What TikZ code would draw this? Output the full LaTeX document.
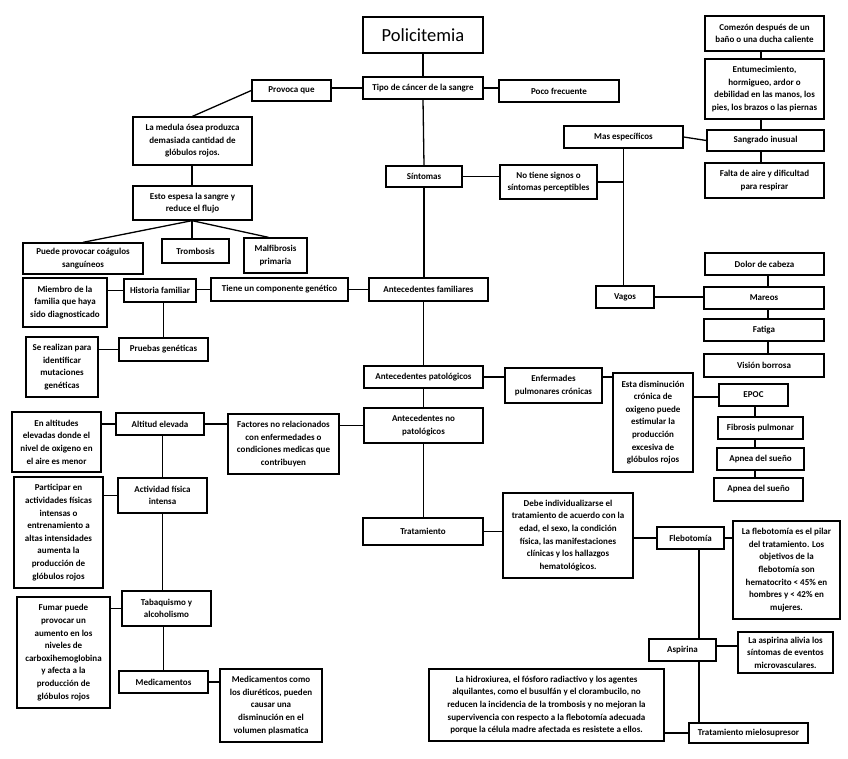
\documentclass[tikz,border=0pt]{standalone}
\usepackage{fontspec}
\setmainfont{Carlito}
\begin{document}
\begin{tikzpicture}[x=1pt,y=-1pt,
  box/.style={draw, line width=1.3pt, inner sep=0pt, align=center,
    font=\fontsize{9}{12.6}\selectfont\bfseries},
  link/.style={line width=1.3pt},
  title/.style={draw, line width=2.6pt, inner sep=0pt, align=center,
    font=\fontsize{18.5}{20}\selectfont}]
\fill[white] (0,0) rectangle (848,759);
\useasboundingbox (0,0) rectangle (848,759);

% --- nodes ---
\node[title, minimum width=120pt, minimum height=36pt] (pol) at (423,35) {Policitemia};
\node[box, minimum width=120pt, minimum height=22pt] (tipo) at (423,88) {Tipo de cáncer de la sangre};
\node[box, minimum width=79pt, minimum height=21pt] (provoca) at (291.5,90.5) {Provoca que};
\node[box, minimum width=120pt, minimum height=22pt] (poco) at (559,91) {Poco frecuente};
\node[box, minimum width=119pt, minimum height=48pt] (medula) at (192.5,141) {La medula ósea produzca\\demasiada cantidad de\\glóbulos rojos.};
\node[box, minimum width=119pt, minimum height=34pt] (espesa) at (192.5,203) {Esto espesa la sangre y\\reduce el flujo};
\node[box, minimum width=120pt, minimum height=31pt] (coag) at (83,258.5) {Puede provocar coágulos\\sanguíneos};
\node[box, minimum width=67pt, minimum height=24pt] (tromb) at (195.5,251) {Trombosis};
\node[box, minimum width=63pt, minimum height=35pt] (malf) at (275.5,255.5) {Malfibrosis\\primaria};

\node[box, minimum width=76pt, minimum height=21pt] (sint) at (424,176.5) {Síntomas};
\node[box, minimum width=97pt, minimum height=34pt] (notiene) at (548.5,182) {No tiene signos o\\síntomas perceptibles};
\node[box, minimum width=119pt, minimum height=22pt] (masesp) at (623.5,137) {Mas específicos};
\node[box, minimum width=119pt, minimum height=35pt] (comezon) at (764.5,33.5) {Comezón después de un\\baño o una ducha caliente};
\node[box, minimum width=119pt, minimum height=60pt] (entum) at (764.5,89) {Entumecimiento,\\hormigueo, ardor o\\debilidad en las manos, los\\pies, los brazos o las piernas};
\node[box, minimum width=117pt, minimum height=21pt] (sangrado) at (765.5,140.5) {Sangrado inusual};
\node[box, minimum width=119pt, minimum height=35pt] (falta) at (764.5,180.5) {Falta de aire y dificultad\\para respirar};
\node[box, minimum width=119pt, minimum height=22pt] (dolor) at (764.5,264) {Dolor de cabeza};
\node[box, minimum width=58pt, minimum height=22pt] (vagos) at (625,297) {Vagos};
\node[box, minimum width=120pt, minimum height=22pt] (mareos) at (764,298) {Mareos};
\node[box, minimum width=120pt, minimum height=22pt] (fatiga) at (764,330) {Fatiga};
\node[box, minimum width=120pt, minimum height=23pt] (vision) at (764,365.5) {Visión borrosa};

\node[box, minimum width=119pt, minimum height=23pt] (antfam) at (428.5,289.5) {Antecedentes familiares};
\node[box, minimum width=84pt, minimum height=49pt] (miembro) at (65,302.5) {Miembro de la\\familia que haya\\sido diagnosticado};
\node[box, minimum width=72pt, minimum height=23pt] (historia) at (160,290.5) {Historia familiar};
\node[box, minimum width=137pt, minimum height=23pt] (tiene) at (279.5,289.5) {Tiene un componente genético};
\node[box, minimum width=89pt, minimum height=23pt] (pruebas) at (163.5,349.5) {Pruebas genéticas};
\node[box, minimum width=72pt, minimum height=60pt] (serealizan) at (62,367) {Se realizan para\\identificar\\mutaciones\\genéticas};

\node[box, minimum width=119pt, minimum height=22pt] (antpat) at (423.5,377) {Antecedentes patológicos};
\node[box, minimum width=119pt, minimum height=35pt] (antnopat) at (423.5,425.5) {Antecedentes no\\patológicos};
\node[box, minimum width=97pt, minimum height=35pt] (enferm) at (553.5,385.5) {Enfermades\\pulmonares crónicas};
\node[box, minimum width=80pt, minimum height=99pt] (esta) at (653,422.5) {Esta disminución\\crónica de\\oxigeno puede\\estimular la\\producción\\excesiva de\\glóbulos rojos};
\node[box, minimum width=69pt, minimum height=22pt] (epoc) at (753.5,395) {EPOC};
\node[box, minimum width=85pt, minimum height=22pt] (fibrosis) at (760.5,428) {Fibrosis pulmonar};
\node[box, minimum width=87pt, minimum height=22pt] (apneaA) at (760.5,459) {Apnea del sueño};
\node[box, minimum width=89pt, minimum height=23pt] (apneaB) at (758.5,489.5) {Apnea del sueño};

\node[box, minimum width=88pt, minimum height=22pt] (altitud) at (160,424) {Altitud elevada};
\node[box, minimum width=89pt, minimum height=60pt] (enalt) at (56.5,442) {En altitudes\\elevadas donde el\\nivel de oxigeno en\\el aire es menor};
\node[box, minimum width=111pt, minimum height=60pt] (factores) at (283.5,444) {Factores no relacionados\\con enfermedades o\\condiciones medicas que\\contribuyen};
\node[box, minimum width=89pt, minimum height=35pt] (actividad) at (162.5,495.5) {Actividad física\\intensa};
\node[box, minimum width=89pt, minimum height=111pt] (particip) at (58.5,532.5) {Participar en\\actividades físicas\\intensas o\\entrenamiento a\\altas intensidades\\aumenta la\\producción de\\glóbulos rojos};
\node[box, minimum width=89pt, minimum height=35pt] (tabaq) at (166.5,608.5) {Tabaquismo y\\alcoholismo};
\node[box, minimum width=93pt, minimum height=111pt] (fumar) at (63.5,652.5) {Fumar puede\\provocar un\\aumento en los\\niveles de\\carboxihemoglobina\\y afecta a la\\producción de\\glóbulos rojos};
\node[box, minimum width=89pt, minimum height=22pt] (medic) at (163.5,682) {Medicamentos};
\node[box, minimum width=102pt, minimum height=73pt] (mediccomo) at (271,705.5) {Medicamentos como\\los diuréticos, pueden\\causar una\\disminución en el\\volumen plasmatica};

\node[box, minimum width=120pt, minimum height=27pt] (trat) at (423,531.5) {Tratamiento};
\node[box, minimum width=130pt, minimum height=85pt] (debe) at (568,535.5) {Debe individualizarse el\\tratamiento de acuerdo con la\\edad, el sexo, la condición\\física, las manifestaciones\\clínicas y los hallazgos\\hematológicos.};
\node[box, minimum width=67pt, minimum height=22pt] (flebo) at (690.5,538) {Flebotomía};
\node[box, minimum width=107pt, minimum height=98pt] (pilar) at (786.5,570) {La flebotomía es el pilar\\del tratamiento. Los\\objetivos de la\\flebotomía son\\hematocrito < 45\% en\\hombres y < 42\% en\\mujeres.};
\node[box, minimum width=67pt, minimum height=22pt] (aspirina) at (682.5,650) {Aspirina};
\node[box, minimum width=95pt, minimum height=41pt] (alivia) at (785.5,652.5) {La aspirina alivia los\\síntomas de eventos\\microvasculares.};
\node[box, minimum width=235pt, minimum height=72pt] (hidrox) at (546.5,705) {La hidroxiurea, el fósforo radiactivo y los agentes\\alquilantes, como el busulfán y el clorambucilo, no\\reducen la incidencia de la trombosis y no mejoran la\\supervivencia con respecto a la flebotomía adecuada\\porque la célula madre afectada es resistete a ellos.};
\node[box, minimum width=119pt, minimum height=20pt] (mielo) at (748.5,733) {Tratamiento mielosupresor};

% --- helper coordinates for vertical runs ---
\coordinate (colA) at (761,0);
\coordinate (colB) at (768,0);
\coordinate (colC) at (755,0);
\coordinate (colD) at (699,0);
\coordinate (colE) at (192,0);

% --- connectors ---
\draw[link] (pol.south) -- (tipo.north);
\draw[link] (tipo.west) -- (tipo.west -| provoca.east);
\draw[link] (tipo.east) -- (tipo.east -| poco.west);
\draw[link] (provoca.west) -- (medula.north);
\draw[link] (medula.south -| colE) -- (espesa.north -| colE);
\draw[link] (espesa.south -| colE) -- (coag.north);
\draw[link] (espesa.south -| colE) -- (tromb.north -| colE);
\draw[link] (espesa.south -| colE) -- ([xshift=-7pt]malf.north);

\draw[link] (tipo.south) -- (sint.north);
\draw[link] (sint.south) -- (sint.south |- antfam.north);
\draw[link] (sint.east) -- (sint.east -| notiene.west);
\draw[link] (masesp.south) -- (masesp.south |- vagos.north);
\draw[link] (notiene.east) -- (notiene.east -| masesp.south);
\draw[link] (masesp.east) -- (sangrado.west);
\draw[link] (comezon.south -| colA) -- (entum.north -| colA);
\draw[link] (entum.south -| colA) -- (sangrado.north -| colA);
\draw[link] (sangrado.south -| colA) -- (falta.north -| colA);
\draw[link] (vagos.east) -- (vagos.east -| mareos.west);
\draw[link] (dolor.south -| colB) -- (mareos.north -| colB);
\draw[link] (mareos.south -| colB) -- (fatiga.north -| colB);
\draw[link] (fatiga.south -| colB) -- (vision.north -| colB);

\draw[link] (antfam.west) -- (antfam.west -| tiene.east);
\draw[link] (tiene.west) -- (tiene.west -| historia.east);
\draw[link] (historia.west) -- (historia.west -| miembro.east);
\draw[link] (pruebas.north) -- (pruebas.north |- historia.south);
\draw[link] (pruebas.west) -- (pruebas.west -| serealizan.east);

\draw[link] (antpat.north) -- (antpat.north |- antfam.south);
\draw[link] (antpat.south) -- (antnopat.north);
\draw[link] (antnopat.south) -- (antnopat.south |- trat.north);
\draw[link] (antpat.east) -- (antpat.east -| enferm.west);
\draw[link] (enferm.east |- antpat.east) -- (esta.west |- antpat.east);
\draw[link] ([yshift=-2pt]epoc.west) -- ([yshift=-2pt]epoc.west -| esta.east);
\draw[link] (epoc.south -| colC) -- (fibrosis.north -| colC);
\draw[link] (fibrosis.south -| colC) -- (apneaA.north -| colC);
\draw[link] (apneaA.south -| colC) -- (apneaB.north -| colC);

\draw[link] (antnopat.west) -- (antnopat.west -| factores.east);
\draw[link] (altitud.east) -- (altitud.east -| factores.west);
\draw[link] (altitud.west) -- (altitud.west -| enalt.east);
\draw[link] (altitud.south -| actividad.north) -- (actividad.north);
\draw[link] (actividad.west) -- (actividad.west -| particip.east);
\draw[link] (actividad.south) -- (actividad.south |- tabaq.north);
\draw[link] (tabaq.west) -- (tabaq.west -| fumar.east);
\draw[link] (medic.north) -- (medic.north |- tabaq.south);
\draw[link] (medic.east) -- (medic.east -| mediccomo.west);

\draw[link] (trat.east) -- (trat.east -| debe.west);
\draw[link] (flebo.west) -- (flebo.west -| debe.east);
\draw[link] (flebo.east) -- (flebo.east -| pilar.west);
\draw[link] (flebo.south -| colD) -- (aspirina.north -| colD);
\draw[link] (aspirina.south -| colD) -- (mielo.north -| colD);
\draw[link] ([yshift=4pt]aspirina.east) -- ([yshift=4pt]aspirina.east -| alivia.west);
\draw[link] (mielo.west) -- (mielo.west -| hidrox.east);
\end{tikzpicture}
\end{document}
